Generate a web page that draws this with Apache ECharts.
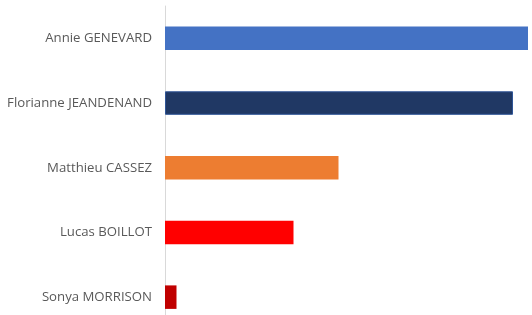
<!DOCTYPE html>
<html>
<head>
<meta charset="utf-8">
<script src="https://cdn.jsdelivr.net/npm/echarts@6/dist/echarts.min.js"></script>
<style>html,body{margin:0;padding:0;background:#fff;}#c{width:532px;height:315px;}</style>
</head>
<body>
<div id="c"></div>
<script>
const categories = ["Annie GENEVARD", "Florianne JEANDENAND", "Matthieu CASSEZ", "Lucas BOILLOT", "Sonya MORRISON"];
const values = [363, 348, 173.5, 128.5, 11.5];
const colors = ["#4472C4", "#203864", "#ED7D31", "#FF0000", "#C00000"];
const borders = [null, "#2F5597", null, null, null];

const chart = echarts.init(document.getElementById('c'), null, {renderer: 'canvas'});
chart.setOption({
  animation: false,
  grid: {left: 165, right: 4, top: 6, height: 323.5, containLabel: false, outerBoundsMode: 'none'},
  xAxis: {
    type: 'value', min: 0, max: 363,
    show: false
  },
  yAxis: {
    type: 'category', inverse: true, data: categories,
    axisLine: {show: true, lineStyle: {color: '#D9D9D9', width: 1}},
    axisTick: {show: false},
    axisLabel: {color: '#595959', fontSize: 13.2, fontFamily: 'Open Sans', margin: 13},
    splitLine: {show: false}
  },
  series: [{
    type: 'bar',
    barWidth: 23.5,
    data: values.map((v, i) => ({
      value: v,
      itemStyle: {color: colors[i], borderColor: borders[i] || colors[i], borderWidth: borders[i] ? 1 : 0}
    }))
  }]
});
</script>
</body>
</html>
